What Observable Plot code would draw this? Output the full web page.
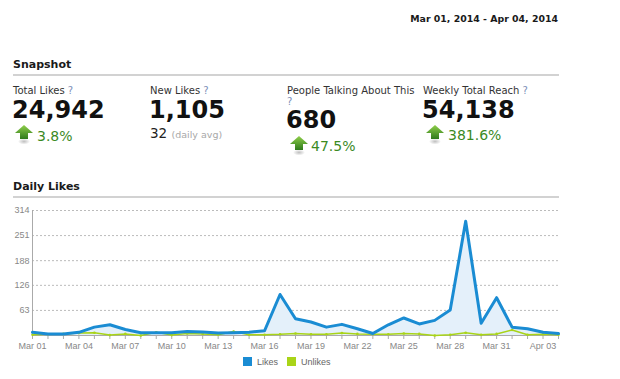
<!DOCTYPE html>
<html>
<head>
<meta charset="utf-8">
<script src="https://cdn.jsdelivr.net/npm/d3@7"></script>
<script src="https://cdn.jsdelivr.net/npm/@observablehq/plot@0.6"></script>
<style>
  html, body { margin: 0; padding: 0; background: #fff; }
  #page { position: relative; width: 620px; height: 379px; overflow: hidden; font-family: "DejaVu Sans", sans-serif; }
  .abs { position: absolute; white-space: nowrap; line-height: 1; }
  .lbl { font-size: 10px; color: #333; }
  .q { color: #7d8fb8; }
  .big { font-size: 24px; font-weight: bold; color: #111; }
  .pct { font-size: 14px; color: #3b8a1f; }
  .rule { position: absolute; height: 2px; background: #d2d2d2; }
  .head { font-size: 11px; font-weight: bold; color: #1a1a1a; }
  .leg { font-family: "Liberation Sans", Arial, sans-serif; font-size: 9px; color: #666; }
  .sw { position: absolute; width: 9px; height: 9px; }
  #chart { position: absolute; left: 0; top: 200px; }
</style>
</head>
<body>
<div id="page">
  <div class="abs head" style="right:62px; top:13.7px; font-size:9.4px;">Mar 01, 2014 - Apr 04, 2014</div>

  <div class="abs head" style="left:13px; top:58.7px;">Snapshot</div>
  <div class="rule" style="left:13px; top:73.5px; width:546px;"></div>

  <div class="abs lbl" style="left:13px; top:85.5px;">Total Likes <span class="q">?</span></div>
  <div class="abs big" style="left:12px; top:97.7px;">24,942</div>
  <div class="abs pct" style="left:37px; top:128.7px;">3.8%</div>

  <div class="abs lbl" style="left:150px; top:85.5px;">New Likes <span class="q">?</span></div>
  <div class="abs big" style="left:149px; top:97.7px;">1,105</div>
  <div class="abs" style="left:150px; top:126.6px; font-size:13.5px; color:#222;">32 <span style="font-size:9.5px; color:#a8a8a8;">(daily avg)</span></div>

  <div class="abs lbl" style="left:287px; top:85.5px;">People Talking About This</div>
  <div class="abs lbl q" style="left:287px; top:96.5px;">?</div>
  <div class="abs big" style="left:286px; top:108px;">680</div>
  <div class="abs pct" style="left:311px; top:139.2px;">47.5%</div>

  <div class="abs lbl" style="left:423px; top:85.5px;">Weekly Total Reach <span class="q">?</span></div>
  <div class="abs big" style="left:422px; top:97.7px;">54,138</div>
  <div class="abs pct" style="left:448px; top:128.2px;">381.6%</div>

  <div class="abs head" style="left:13px; top:180.7px;">Daily Likes</div>
  <div class="rule" style="left:13px; top:195.8px; width:546px;"></div>

  <div id="chart"></div>

  <div class="sw" style="left:243px; top:357.3px; background:#1a8cd3;"></div>
  <div class="abs leg" style="left:257px; top:358px;">Likes</div>
  <div class="sw" style="left:287px; top:357.3px; background:#a9d418;"></div>
  <div class="abs leg" style="left:301px; top:358px;">Unlikes</div>
</div>

<script>
// ---- data ----
const dayLabels = ["2014-03-01","2014-03-02","2014-03-03","2014-03-04","2014-03-05","2014-03-06","2014-03-07",
  "2014-03-08","2014-03-09","2014-03-10","2014-03-11","2014-03-12","2014-03-13","2014-03-14",
  "2014-03-15","2014-03-16","2014-03-17","2014-03-18","2014-03-19","2014-03-20","2014-03-21",
  "2014-03-22","2014-03-23","2014-03-24","2014-03-25","2014-03-26","2014-03-27","2014-03-28",
  "2014-03-29","2014-03-30","2014-03-31","2014-04-01","2014-04-02","2014-04-03","2014-04-04"];
const likes   = [8,4,4,8,21,27,15,7,7,7,10,9,6,7,8,12,103,42,34,21,28,17,5,27,44,29,38,64,287,31,95,21,17,8,5];
const unlikes = [2,3,4,6,7,1,4,0,8,1,5,4,2,10,2,2,3,5,3,3,6,4,3,3,5,4,0,2,7,2,4,14,2,3,2];
const yTicks = [63,126,188,251,314];
const xLabelDays = ["2014-03-01","2014-03-04","2014-03-07","2014-03-10","2014-03-13","2014-03-16",
  "2014-03-19","2014-03-22","2014-03-25","2014-03-28","2014-03-31","2014-04-03"];
const seriesNames = ["Likes","Unlikes"];

// ---- build ----
const parse = d3.utcParse("%Y-%m-%d");
const dates = dayLabels.map(parse);
const labelDates = xLabelDays.map(parse);
const rows = dates.map((d, i) => ({date: d, likes: likes[i], unlikes: unlikes[i]}));

// arrows (decorative icons)
function arrow(left, top) {
  const ns = "http://www.w3.org/2000/svg";
  const wrap = document.createElement("div");
  wrap.style.cssText = `position:absolute;left:${left}px;top:${top}px;width:18px;height:20px;`;
  wrap.innerHTML = `<svg width="18" height="20" viewBox="0 0 18 20">
    <defs><linearGradient id="g${left}" x1="0" y1="0" x2="0" y2="1">
      <stop offset="0" stop-color="#8fcf4a"/><stop offset="1" stop-color="#2f7a1c"/></linearGradient>
      <radialGradient id="s${left}"><stop offset="0" stop-color="#000" stop-opacity="0.25"/><stop offset="1" stop-color="#000" stop-opacity="0"/></radialGradient></defs>
    <ellipse cx="9" cy="16.5" rx="6" ry="3" fill="url(#s${left})"/>
    <polygon points="9,0 18,8 13,8 13,14 5,14 5,8 0,8" fill="url(#g${left})"/>
  </svg>`;
  document.getElementById("page").appendChild(wrap);
}
arrow(15, 125);
arrow(289.5, 135.5);
arrow(426, 124.5);

const blue = "#1a8cd3", green = "#a9d418";

const chart = Plot.plot({
  width: 620,
  height: 152,
  marginTop: 10,
  marginBottom: 17,
  marginLeft: 32,
  marginRight: 62,
  style: {fontFamily: "Liberation Sans, Arial, sans-serif", fontSize: "9px", background: "transparent", overflow: "visible"},
  x: {type: "utc", domain: [dates[0], dates[dates.length - 1]], label: null},
  y: {domain: [0, 314], label: null},
  marks: [
    Plot.ruleY(yTicks, {stroke: "#bbb", strokeDasharray: "2,2"}),
    Plot.areaY(rows, {x: "date", y: "likes", fill: "#e4f0fa"}),
    Plot.ruleY([0], {stroke: "#aaa"}),
    Plot.ruleX([dates[0]], {stroke: "#aaa"}),
    Plot.axisX({ticks: dates, tickSize: 4, tickFormat: () => "", stroke: "#aaa", label: null}),
    Plot.axisX({ticks: labelDates, tickSize: 0, tickPadding: 7, tickFormat: d3.utcFormat("%b %d"), fill: "#888", label: null}),
    Plot.axisY({ticks: yTicks, tickSize: 0, tickPadding: 3, tickFormat: d => String(d), fill: "#888", label: null}),
    Plot.lineY(rows, {x: "date", y: "unlikes", stroke: green, strokeWidth: 1.5}),
    Plot.dot(rows, {x: "date", y: "unlikes", r: 1.3, fill: green}),
    Plot.lineY(rows, {x: "date", y: "likes", stroke: blue, strokeWidth: 3, strokeLinejoin: "round"})
  ]
});
document.getElementById("chart").appendChild(chart);
</script>
</body>
</html>
